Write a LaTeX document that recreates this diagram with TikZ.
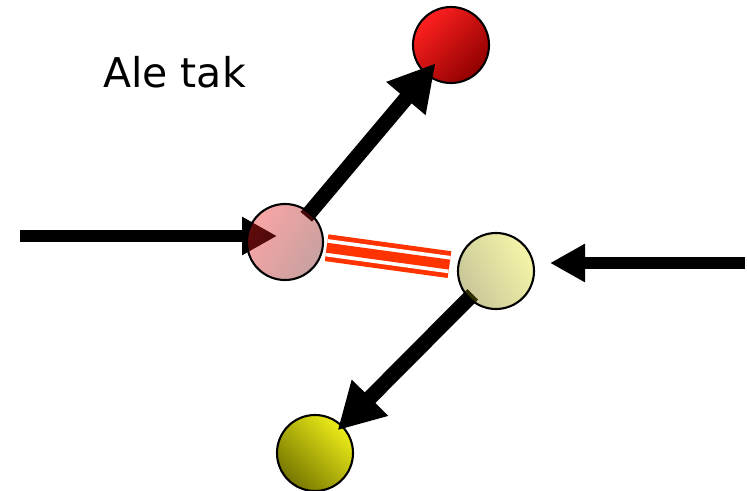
\documentclass[tikz,border=0pt]{standalone}
\usepackage{fontspec}
\usepackage{xcolor}
\usepackage{tikz}
\usetikzlibrary{
  arrows.meta, positioning, calc
}
\newfontfamily\notefont{DejaVu Sans}
\definecolor{colRed400}   {HTML}{FF2020}
\definecolor{colRed600}   {HTML}{DC0000}
\definecolor{colRed900}   {HTML}{900000}
\definecolor{colPink400}  {HTML}{F01E1E}
\definecolor{colPink900}  {HTML}{761212}
\definecolor{colCream400} {HTML}{E6E626}
\definecolor{colCream900} {HTML}{767100}
\definecolor{colOlive400} {HTML}{ECEC18}
\definecolor{colOlive600} {HTML}{B4B400}
\definecolor{colOlive900} {HTML}{767600}
\definecolor{colBond}     {HTML}{FF3300}
\pgfdeclarelayer{back}
\pgfdeclarelayer{front}
\pgfsetlayers{back,main,front}
\tikzset{
  atom/.style={
    circle, draw=black, line width=2.1pt,
    minimum size=76pt, inner sep=0pt, outer sep=0pt
  },
  atomred/.style  ={atom, top color=colRed400, middle color=colRed600,
                    bottom color=colRed900, shading angle=45},
  atomolive/.style={atom, top color=colOlive400, middle color=colOlive600,
                    bottom color=colOlive900, shading angle=-45},
  % translucent atoms: the arrows show through them
  atompink/.style ={atom, top color=colPink400,  bottom color=colPink900,  shading angle=60,  fill opacity=0.4},
  atomcream/.style={atom, top color=colCream400, bottom color=colCream900, shading angle=-60, fill opacity=0.4},
  pusharr/.style={
    -{Triangle[length=35pt,width=36pt]},
    line width=12pt, draw=black
  },
  flyarr/.style={
    -{Triangle[length=46pt,width=48pt]},
    line width=15pt, draw=black
  },
  bond/.style={
    draw=colBond, line width=27pt,
    postaction={draw=white, line width=3.7pt, double=colBond, double distance=10pt}
  }
}

\begin{document}
\begin{tikzpicture}[x=1pt, y=-1pt]
  \useasboundingbox (0,0) rectangle (747,490);

  %% ── Atoms ───────────────────────────────────────────────────────
  \begin{pgfonlayer}{back}
    \node[atomred]   (redatom)   at (451,45)  {};
    \node[atomolive] (oliveatom) at (315,453) {};
  \end{pgfonlayer}
  \begin{pgfonlayer}{front}
    \node[atompink]  (pinkatom)  at (285,242) {};
    \node[atomcream] (creamatom) at (496,271) {};
  \end{pgfonlayer}

  \node[anchor=base west, inner sep=0pt,
        font=\notefont\fontsize{41}{49}\selectfont] (caption) at (103,87) {Ale tak};

  %% ── Incoming arrows ─────────────────────────────────────────────
  \coordinate (inleft)  at (20,236);
  \coordinate (inright) at (745,263);
  \draw[pusharr, shorten >=8pt]  (inleft)  -- (inleft -| pinkatom.center);
  \draw[pusharr, shorten >=16pt] (inright) -- (inright -| creamatom.east);

  %% ── Outgoing arrows ─────────────────────────────────────────────
  \draw[flyarr, shorten <=33pt, shorten >=24pt] (pinkatom.center)  -- (redatom.center);
  \draw[flyarr, shorten <=33pt, shorten >=32pt] (creamatom.center) -- (oliveatom.center);

  % bond between the two hit atoms
  \draw[bond, shorten <=42pt, shorten >=47pt] (pinkatom.center) -- (creamatom.center);
\end{tikzpicture}
\end{document}
